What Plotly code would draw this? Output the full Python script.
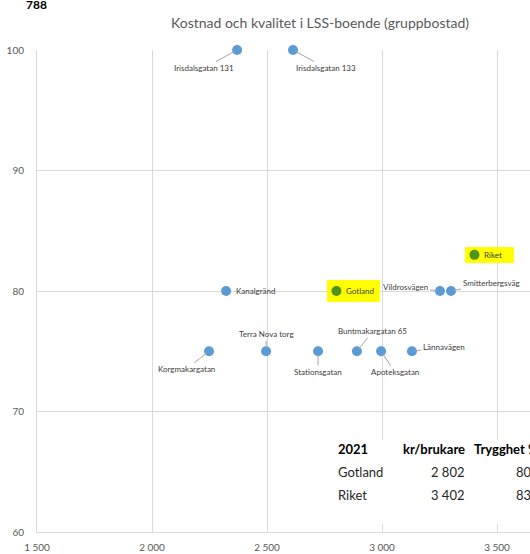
import plotly.graph_objects as go

# ---- data ----
units = ["Irisdalsgatan 131", "Irisdalsgatan 133", "Kanalgränd", "Vildrosvägen",
         "Smitterbergsväg", "Korgmakargatan", "Terra Nova torg", "Stationsgatan",
         "Buntmakargatan 65", "Apoteksgatan", "Lännavägen"]
unit_cost = [2370, 2613, 2322, 3252, 3300, 2248, 2496, 2722, 2891, 2996, 3130]
unit_quality = [100, 100, 80, 80, 80, 75, 75, 75, 75, 75, 75]

ref_names = ["Gotland", "Riket"]
ref_cost = [2802, 3402]
ref_quality = [80, 83]

table_year = "2021"
table_cols = ["kr/brukare", "Trygghet %"]
table_cost_txt = ["2 802", "3 402"]
table_qual_txt = ["80%", "83%"]

x_ticks = [1500, 2000, 2500, 3000, 3500]
y_ticks = [60, 70, 80, 90, 100]

# ---- styling ----
BLUE = "#5B9BD5"
GREEN = "#4F931E"
GRID = "#D9D9D9"
LBL = "#404040"
FONT = "Lato, Carlito, Calibri, sans-serif"

# label offsets (pixels) for leader-line labels
offsets = {
    "Irisdalsgatan 131": (-33, 18),
    "Irisdalsgatan 133": (33, 18),
    "Vildrosvägen": (-34, -4),
    "Smitterbergsväg": (40, -8),
    "Korgmakargatan": (-23, 18),
    "Terra Nova torg": (0, -17),
    "Stationsgatan": (0, 21),
    "Buntmakargatan 65": (16, -20),
    "Apoteksgatan": (14, 21),
    "Lännavägen": (32, -4),
}

fig = go.Figure()
fig.add_trace(go.Scatter(x=unit_cost, y=unit_quality, mode="markers",
                         marker=dict(size=10, color=BLUE), cliponaxis=False,
                         hovertext=units, showlegend=False))
fig.add_trace(go.Scatter(x=ref_cost, y=ref_quality, mode="markers",
                         marker=dict(size=10, color=GREEN), cliponaxis=False,
                         hovertext=ref_names, showlegend=False))

annotations = []
for name, xv, yv in zip(units, unit_cost, unit_quality):
    if name in offsets:
        ax, ay = offsets[name]
        annotations.append(dict(x=xv, y=yv, xref="x", yref="y", text=name,
                                showarrow=True, arrowhead=0, arrowwidth=1,
                                arrowcolor="#A6A6A6", ax=ax, ay=ay, standoff=3,
                                font=dict(size=8, color=LBL, family=FONT)))
    else:
        annotations.append(dict(x=xv, y=yv, xref="x", yref="y", text=name,
                                showarrow=False, xanchor="left", xshift=8,
                                font=dict(size=8, color=LBL, family=FONT)))
for name, xv, yv in zip(ref_names, ref_cost, ref_quality):
    annotations.append(dict(x=xv, y=yv, xref="x", yref="y", text=name,
                            showarrow=False, xanchor="left", xshift=8,
                            font=dict(size=8, color=LBL, family=FONT)))

# yellow highlights around reference points
shapes = [
    dict(type="rect", xref="x", yref="y", x0=ref_cost[0] - 41, x1=ref_cost[0] + 189,
         y0=ref_quality[0] - 0.91, y1=ref_quality[0] + 0.91,
         fillcolor="#FFFF00", line=dict(width=0), layer="between"),
    dict(type="rect", xref="x", yref="y", x0=ref_cost[1] - 41, x1=ref_cost[1] + 172,
         y0=ref_quality[1] - 0.68, y1=ref_quality[1] + 0.65,
         fillcolor="#FFFF00", line=dict(width=0), layer="between"),
]

# table box (pixel -> paper helpers)
L, R, T, B = 37, 0, 50, 22
W, H = 530, 554
pw, ph = W - L - R, H - T - B
def px(xp):
    return (xp - L) / pw
def py(yp):
    return (H - B - yp) / ph

shapes.append(dict(type="rect", xref="paper", yref="paper", x0=px(330), x1=px(531),
                   y0=py(524), y1=py(440), fillcolor="white", line=dict(width=0),
                   layer="above"))

tfont = dict(size=13, color="#262626", family=FONT)
annotations.append(dict(x=px(336), y=py(459), xref="paper", yref="paper",
                        text="<b>" + table_year + "</b>", showarrow=False,
                        xanchor="left", font=dict(size=13, color="#000000", family=FONT)))
annotations.append(dict(x=px(467), y=py(459), xref="paper", yref="paper",
                        text="<b>" + table_cols[0] + "</b>", showarrow=False,
                        xanchor="right", font=dict(size=13, color="#000000", family=FONT)))
annotations.append(dict(x=px(472), y=py(459), xref="paper", yref="paper",
                        text="<b>" + table_cols[1] + "</b>", showarrow=False,
                        xanchor="left", font=dict(size=13, color="#000000", family=FONT)))
for i, (nm, c, q) in enumerate(zip(ref_names, table_cost_txt, table_qual_txt)):
    yy = py(482 + 23 * i)
    annotations.append(dict(x=px(336), y=yy, xref="paper", yref="paper", text=nm,
                            showarrow=False, xanchor="left", font=tfont))
    annotations.append(dict(x=px(467), y=yy, xref="paper", yref="paper", text=c,
                            showarrow=False, xanchor="right", font=tfont))
    annotations.append(dict(x=px(514), y=yy, xref="paper", yref="paper", text=q,
                            showarrow=False, xanchor="left", font=tfont))

# cropped header fragment at the very top
annotations.append(dict(x=px(24), y=py(-5), xref="paper", yref="paper",
                        text="<b>788</b>", showarrow=False, xanchor="left",
                        font=dict(size=12, color="#000000", family=FONT)))

fig.update_layout(
    width=W, height=H,
    margin=dict(l=L, r=R, t=T, b=B, pad=0),
    paper_bgcolor="white", plot_bgcolor="white",
    separators=", ",
    title=dict(text="Kostnad och kvalitet i LSS-boende (gruppbostad)",
               x=px(320), xref="paper", xanchor="center",
               y=1 - 23 / H, yref="container", yanchor="middle",
               font=dict(size=14, color="#595959", family=FONT)),
    xaxis=dict(range=[1500, 1500 + (W - L - R) / 0.23], tickvals=x_ticks,
               tickformat=",d", showgrid=True, gridcolor=GRID, gridwidth=1,
               zeroline=False, showline=True, linecolor=GRID, linewidth=1,
               ticks="", ticklabelstandoff=6,
               tickfont=dict(size=10, color="#595959", family=FONT)),
    yaxis=dict(range=[60, 100], tickvals=y_ticks, showgrid=True, gridcolor=GRID,
               gridwidth=1, zeroline=False, showline=True, linecolor=GRID,
               linewidth=1, ticks="", ticklabelstandoff=10,
               tickfont=dict(size=10, color="#595959", family=FONT)),
    annotations=annotations,
    shapes=shapes,
    showlegend=False,
)

fig.write_html(
    "out.html",
    config={"displayModeBar": False},
    post_script="document.body.style.margin='0';document.body.style.overflow='hidden';",
)
